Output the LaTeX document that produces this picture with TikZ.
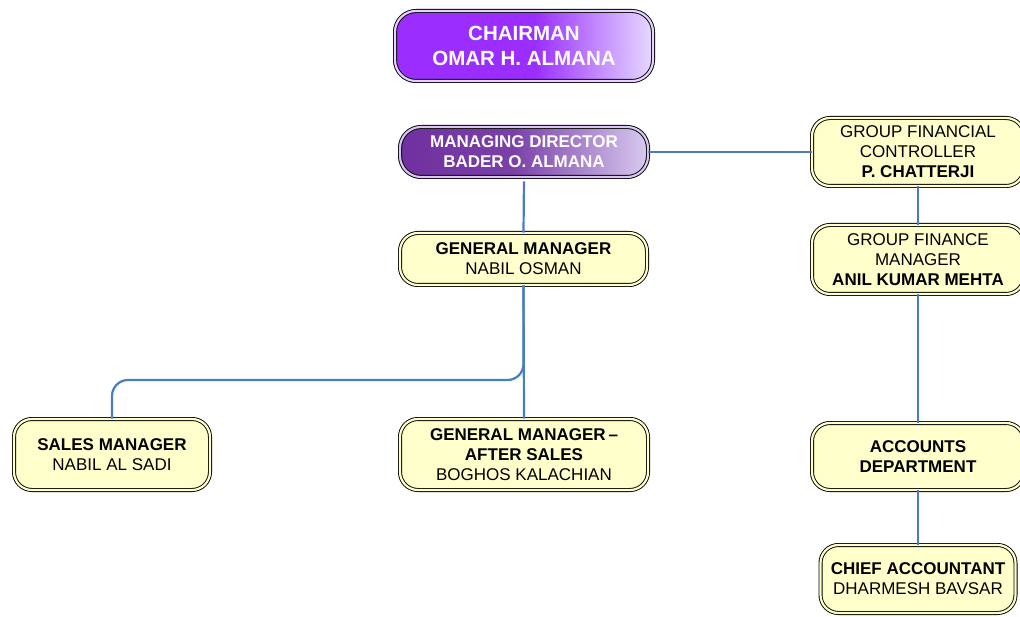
\documentclass[tikz,border=0pt]{standalone}
\usepackage{fontspec}
\setmainfont{Liberation Sans}
\definecolor{ylw}{HTML}{FFFFCC}
\definecolor{connc}{HTML}{4A7CC6}
\definecolor{chA}{HTML}{9B2EFF}
\definecolor{chB}{HTML}{E6DAFF}
\definecolor{mdA}{HTML}{7030A0}
\definecolor{mdB}{HTML}{D8CAF0}
\definecolor{chBand}{HTML}{E4D2FF}
\definecolor{mdBand}{HTML}{D9C6F0}
\pgfdeclarehorizontalshading{chairsh}{100bp}{color(0bp)=(chA); color(25bp)=(chA); color(52bp)=(chA); color(75bp)=(chB); color(100bp)=(chB)}
\pgfdeclarehorizontalshading{mdsh}{100bp}{color(0bp)=(mdA); color(25bp)=(mdA); color(48bp)=(mdA!92!white); color(75bp)=(mdB); color(100bp)=(mdB)}
\tikzset{
  ybox/.style={draw=black, line width=0.9pt, double=ylw, double distance=2.2pt,
    fill=ylw, rounded corners=18pt, align=center, inner sep=0pt, text=black,
    font=\fontsize{17}{20}\selectfont},
  pbox/.style={draw=black, line width=0.9pt, double distance=2.2pt,
    rounded corners=21pt, align=center, inner sep=0pt, text=white,
    font=\bfseries\fontsize{17}{20}\selectfont},
  conn/.style={draw=connc, line width=2.2pt},
}
\begin{document}
\begin{tikzpicture}[x=1pt,y=-1pt]
\useasboundingbox (0,0) rectangle (1020,617);
\node[pbox, double=chBand, shading=chairsh, minimum width=258pt, minimum height=70pt,
  font=\bfseries\fontsize{20.5}{25.5}\selectfont] (chair) at (524,46) {CHAIRMAN\\OMAR H. ALMANA};
\node[pbox, double=mdBand, shading=mdsh, minimum width=248pt, minimum height=50pt] (md) at (524,152) {MANAGING DIRECTOR\\BADER O. ALMANA};
\node[ybox, minimum width=247pt, minimum height=52pt] (gm) at (523.5,259) {\textbf{GENERAL MANAGER}\\NABIL OSMAN};
\node[ybox, minimum width=196pt, minimum height=71pt] (sales) at (112,454.5) {\textbf{SALES MANAGER}\\NABIL AL SADI};
\node[ybox, minimum width=248pt, minimum height=71pt] (gmas) at (524,454.5) {\textbf{GENERAL MANAGER\,–}\\\textbf{AFTER SALES}\\BOGHOS KALACHIAN};
\node[ybox, minimum width=212pt, minimum height=68pt] (gfc) at (918,152) {GROUP FINANCIAL\\CONTROLLER\\\textbf{P. CHATTERJI}};
\node[ybox, minimum width=212pt, minimum height=69pt] (gfm) at (918,259.5) {GROUP FINANCE\\MANAGER\\\textbf{ANIL KUMAR MEHTA}};
\node[ybox, minimum width=212pt, minimum height=67pt] (acc) at (918,456.5) {\textbf{ACCOUNTS}\\\textbf{DEPARTMENT}};
\node[ybox, minimum width=195pt, minimum height=68pt] (chief) at (918,579) {\textbf{CHIEF ACCOUNTANT}\\DHARMESH BAVSAR};
% connectors
\draw[conn, shorten <=4pt] (md.south) -- (gm.north);
\draw[conn] (md.east) -- (gfc.west);
\draw[conn] (gm.south) -- (gmas.north);
\draw[conn, rounded corners=16pt] (gm.south) -- (gm.south |- 0,380) -- (sales.north |- 0,380) -- (sales.north);
\draw[conn] (gfc.south) -- (gfm.north);
\draw[conn] (gfm.south) -- (acc.north);
\draw[conn] (acc.south) -- (chief.north);
\end{tikzpicture}
\end{document}
